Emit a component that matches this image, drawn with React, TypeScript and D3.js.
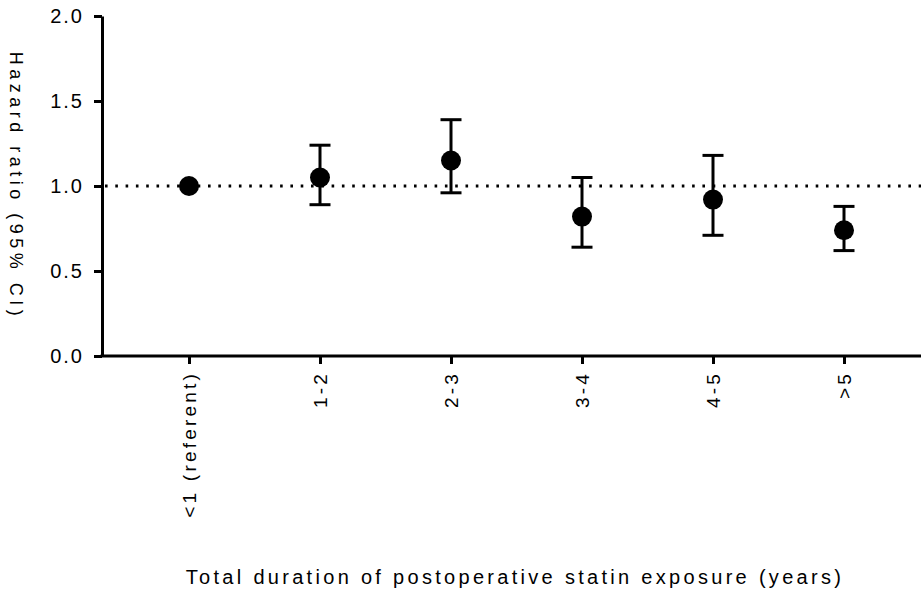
import React, { useEffect, useRef } from 'react';
import { scalePoint, scaleLinear, select, axisLeft, axisBottom, format } from 'd3';

const categories = ['<1 (referent)', '1-2', '2-3', '3-4', '4-5', '>5'];
const hazard = [1.0, 1.05, 1.15, 0.82, 0.92, 0.74];
const lower = [1.0, 0.89, 0.96, 0.64, 0.71, 0.62];
const upper = [1.0, 1.24, 1.39, 1.05, 1.18, 0.88];
const yTicks = [0, 0.5, 1.0, 1.5, 2.0];
const referenceLine = 1.0;

const W = 921;
const H = 590;
const FONT = '"Liberation Sans", Arial, sans-serif';

export default function App() {
  const ref = useRef<SVGSVGElement>(null);

  useEffect(() => {
    const svg = select(ref.current);
    svg.selectAll('*').remove();

    const axisX = 102;
    const x = scalePoint<string>().domain(categories).range([189, 844]);
    const y = scaleLinear().domain([0, 2]).range([356, 16]);

    // reference line at HR = 1
    svg
      .append('line')
      .attr('x1', axisX + 3)
      .attr('x2', W)
      .attr('y1', y(referenceLine))
      .attr('y2', y(referenceLine))
      .attr('stroke', '#000')
      .attr('stroke-width', 3)
      .attr('stroke-dasharray', '2.6 7.7');

    // y axis
    const gy = svg
      .append('g')
      .attr('transform', `translate(${axisX},0)`)
      .call(axisLeft(y).tickValues(yTicks).tickFormat(format('.1f')).tickSize(8).tickSizeOuter(0).tickPadding(10));
    gy.select('.domain').attr('stroke-width', 3);
    gy.selectAll('.tick line').attr('stroke-width', 3);
    gy.selectAll('.tick text')
      .attr('font-family', FONT)
      .attr('font-size', 20)
      .attr('letter-spacing', 2)
      .attr('fill', '#000');

    // x axis
    const gx = svg
      .append('g')
      .attr('transform', `translate(0,${y(0)})`)
      .call(axisBottom(x).tickSize(8).tickSizeOuter(0));
    gx.select('.domain').remove();
    gx.append('line')
      .attr('x1', axisX - 1.5)
      .attr('x2', W)
      .attr('stroke', '#000')
      .attr('stroke-width', 3);
    gx.selectAll('.tick line').attr('stroke-width', 3);
    gx.selectAll('.tick text')
      .attr('font-family', FONT)
      .attr('font-size', 19)
      .attr('letter-spacing', 3.2)
      .attr('fill', '#000')
      .attr('text-anchor', 'end')
      .attr('dy', '0.35em')
      .attr('y', 0)
      .attr('transform', 'translate(0,15) rotate(-90)');

    // error bars
    const cap = 10.5;
    const bars = svg.append('g').attr('stroke', '#000').attr('stroke-width', 3);
    categories.forEach((c, i) => {
      if (upper[i] === lower[i]) return;
      const cx = x(c) as number;
      bars.append('line').attr('x1', cx).attr('x2', cx).attr('y1', y(upper[i])).attr('y2', y(lower[i]));
      bars.append('line').attr('x1', cx - cap).attr('x2', cx + cap).attr('y1', y(upper[i])).attr('y2', y(upper[i]));
      bars.append('line').attr('x1', cx - cap).attr('x2', cx + cap).attr('y1', y(lower[i])).attr('y2', y(lower[i]));
    });

    // points
    svg
      .selectAll('circle.pt')
      .data(categories)
      .enter()
      .append('circle')
      .attr('class', 'pt')
      .attr('cx', d => x(d) as number)
      .attr('cy', (d, i) => y(hazard[i]))
      .attr('r', 10)
      .attr('fill', '#000');

    // axis titles
    svg
      .append('text')
      .attr('transform', `translate(16,${y(1.0)}) rotate(90)`)
      .attr('text-anchor', 'middle')
      .attr('dy', '0.35em')
      .attr('font-family', FONT)
      .attr('font-size', 18)
      .attr('letter-spacing', 4.5)
      .text('Hazard ratio (95% CI)');

    svg
      .append('text')
      .attr('x', 515)
      .attr('y', 584)
      .attr('text-anchor', 'middle')
      .attr('font-family', FONT)
      .attr('font-size', 20)
      .attr('letter-spacing', 3.3)
      .text('Total duration of postoperative statin exposure (years)');
  }, []);

  return (
    <svg
      ref={ref}
      width={W}
      height={H}
      style={{ position: 'absolute', left: 0, top: 0, background: '#fff' }}
    />
  );
}
